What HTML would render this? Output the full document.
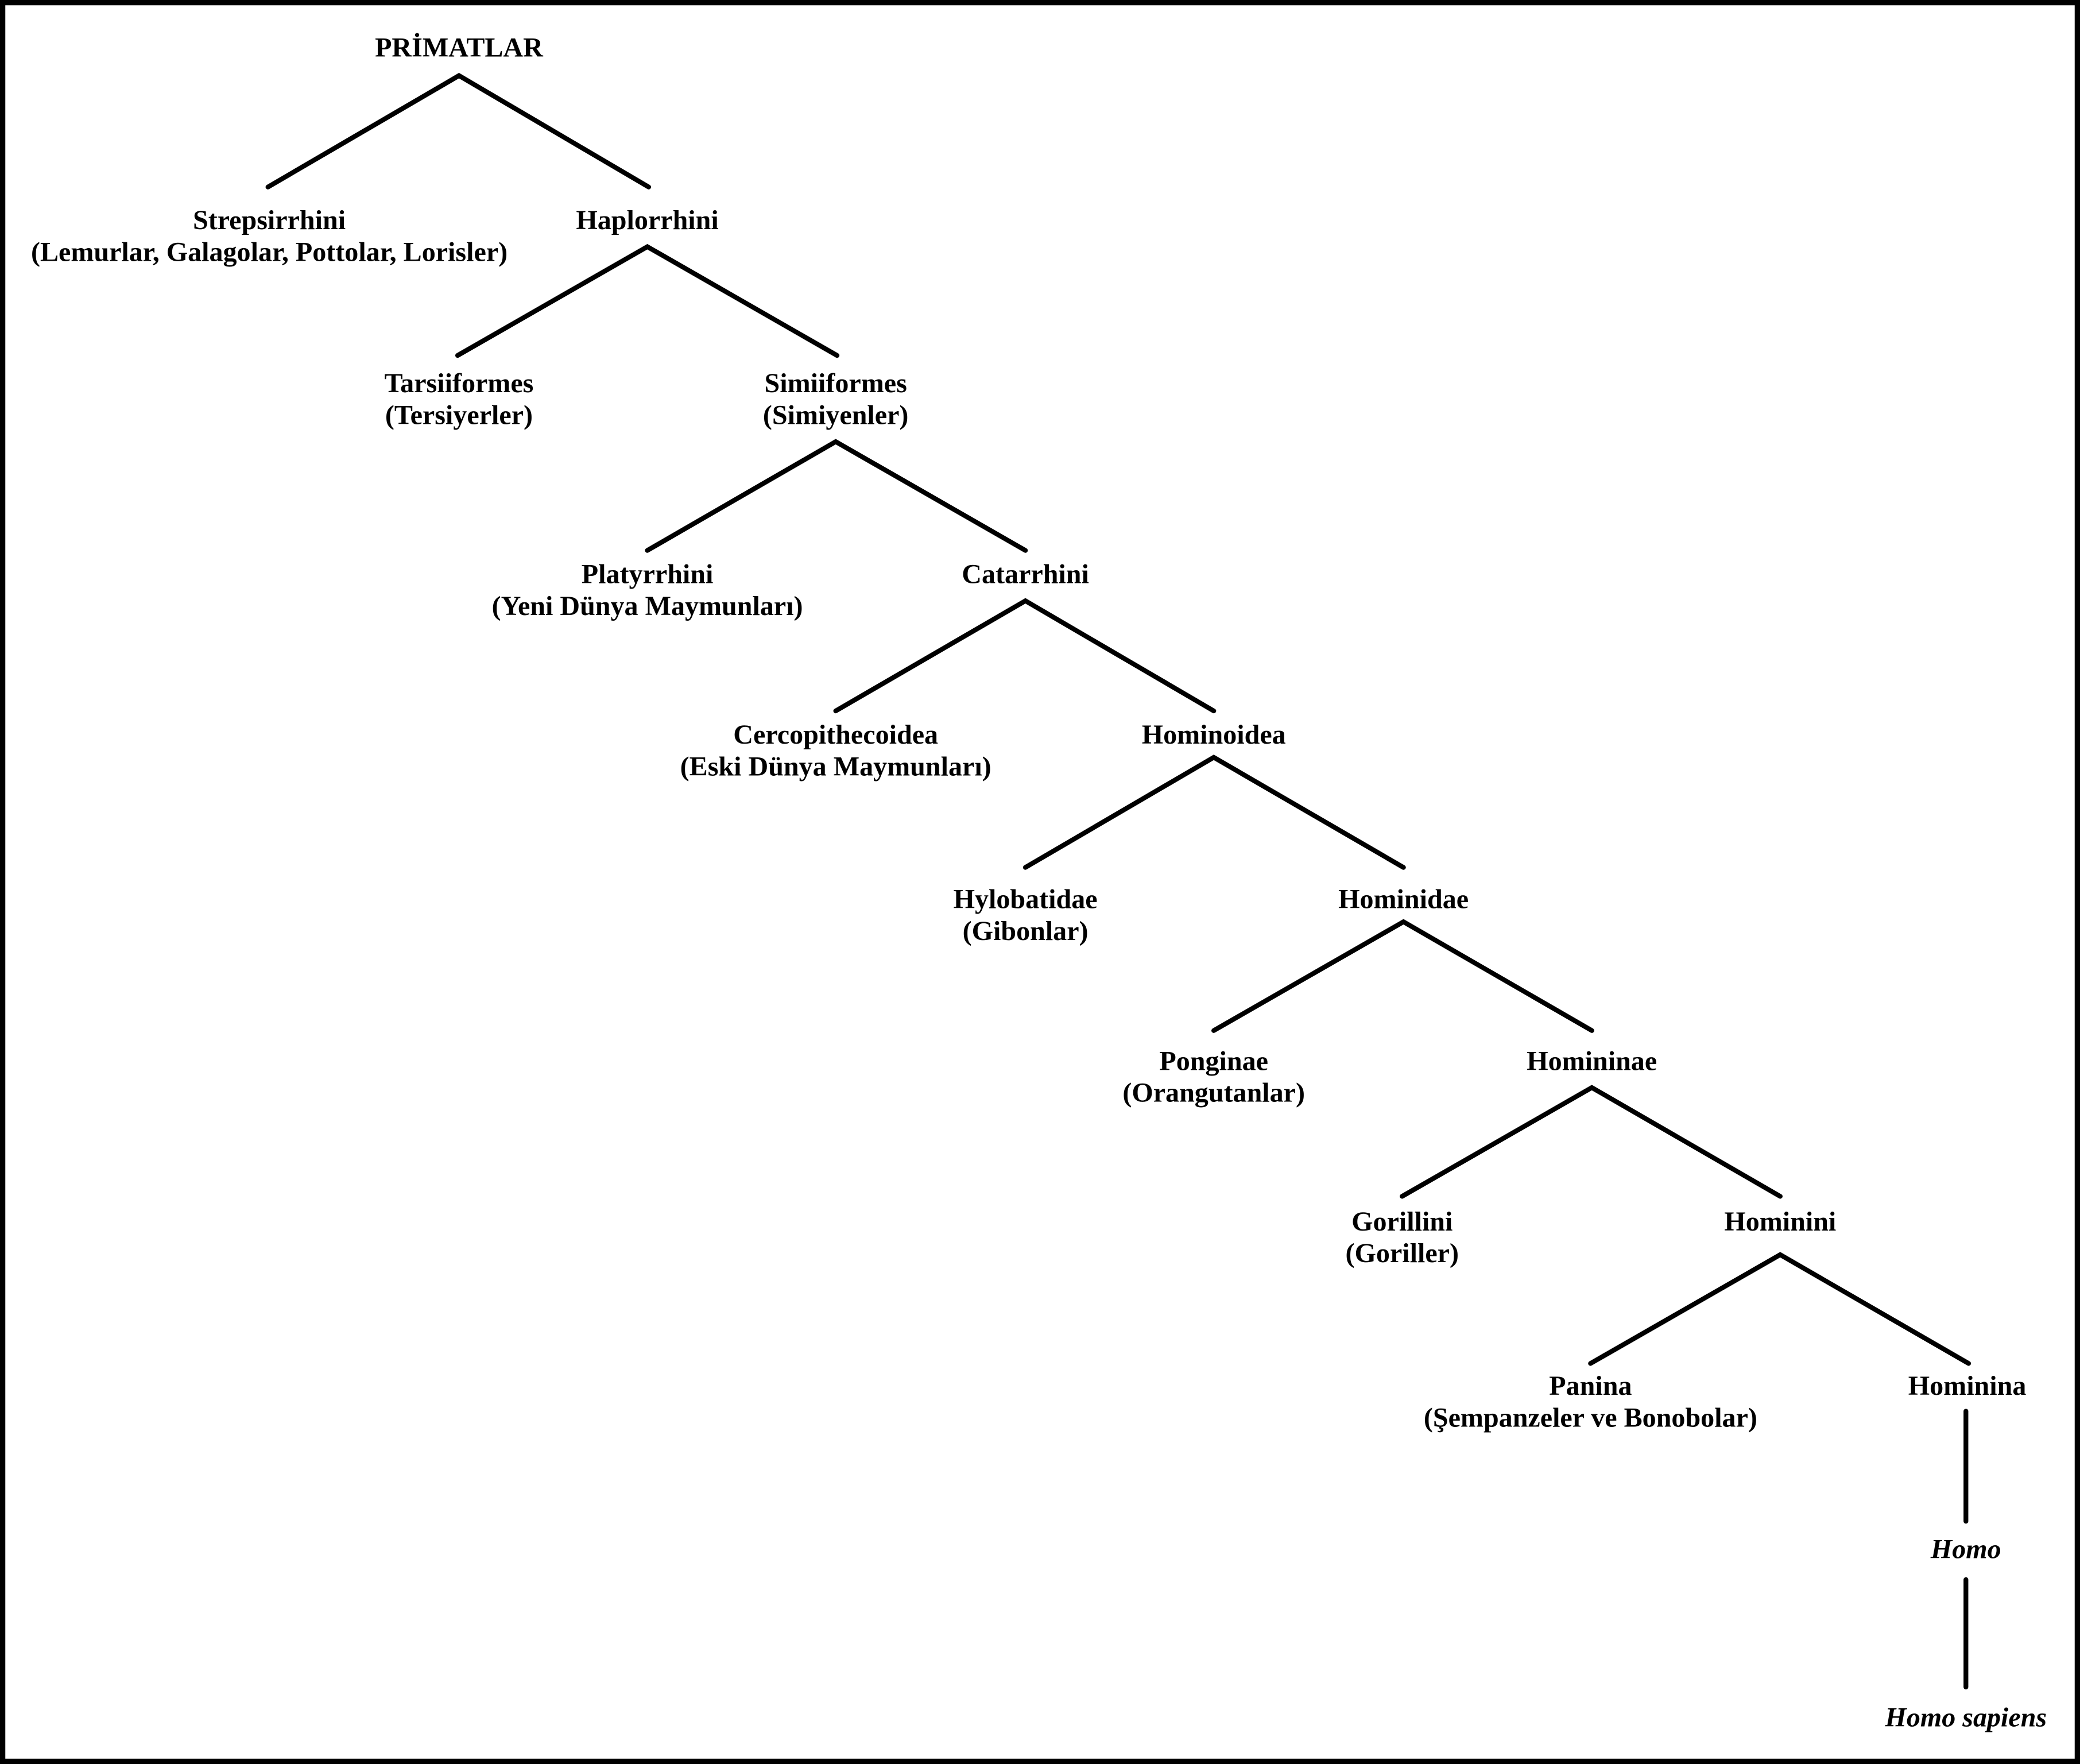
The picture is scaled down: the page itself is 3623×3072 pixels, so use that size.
<!DOCTYPE html>
<html><head><meta charset="utf-8"><style>
html,body{margin:0;padding:0;background:#fff}
svg{display:block}
text{font-family:"Liberation Serif",serif;font-weight:bold;font-size:20.8px;fill:#000;text-anchor:middle;dominant-baseline:central}
.i{font-style:italic}
</style></head><body>
<svg width="3623" height="3072" viewBox="0 0 1568 1330" preserveAspectRatio="none" xmlns="http://www.w3.org/2000/svg">
<rect x="2" y="2" width="1564" height="1326" fill="#fff" stroke="#000" stroke-width="4"/>
<g stroke="#000" stroke-width="3.6" stroke-linecap="round" stroke-linejoin="miter" fill="none">
<polyline points="202,141 346,57 489,141"/>
<polyline points="345,268 488,186 631,268"/>
<polyline points="488,415 630,333 773,415"/>
<polyline points="630,536 773,453 915,536"/>
<polyline points="773,654 915,571 1058,654"/>
<polyline points="915,777 1058,695 1200,777"/>
<polyline points="1057,902 1200,820 1342,902"/>
<polyline points="1199,1028 1342,946 1484,1028"/>
<line x1="1482" y1="1064" x2="1482" y2="1147"/>
<line x1="1482" y1="1191" x2="1482" y2="1272"/>
</g>
<text x="346" y="36">PRİMATLAR</text>
<text x="203" y="166">Strepsirrhini</text>
<text x="203" y="190">(Lemurlar, Galagolar, Pottolar, Lorisler)</text>
<text x="488" y="166">Haplorrhini</text>
<text x="346" y="289">Tarsiiformes</text>
<text x="346" y="313">(Tersiyerler)</text>
<text x="630" y="289">Simiiformes</text>
<text x="630" y="313">(Simiyenler)</text>
<text x="488" y="433">Platyrrhini</text>
<text x="488" y="457">(Yeni Dünya Maymunları)</text>
<text x="773" y="433">Catarrhini</text>
<text x="630" y="554">Cercopithecoidea</text>
<text x="630" y="578">(Eski Dünya Maymunları)</text>
<text x="915" y="554">Hominoidea</text>
<text x="773" y="678">Hylobatidae</text>
<text x="773" y="702">(Gibonlar)</text>
<text x="1058" y="678">Hominidae</text>
<text x="915" y="800">Ponginae</text>
<text x="915" y="824">(Orangutanlar)</text>
<text x="1200" y="800">Homininae</text>
<text x="1057" y="921">Gorillini</text>
<text x="1057" y="945">(Goriller)</text>
<text x="1342" y="921">Hominini</text>
<text x="1199" y="1045">Panina</text>
<text x="1199" y="1069">(Şempanzeler ve Bonobolar)</text>
<text x="1483" y="1045">Hominina</text>
<text class="i" x="1482" y="1168">Homo</text>
<text class="i" x="1482" y="1295">Homo sapiens</text>
</svg>
</body></html>
